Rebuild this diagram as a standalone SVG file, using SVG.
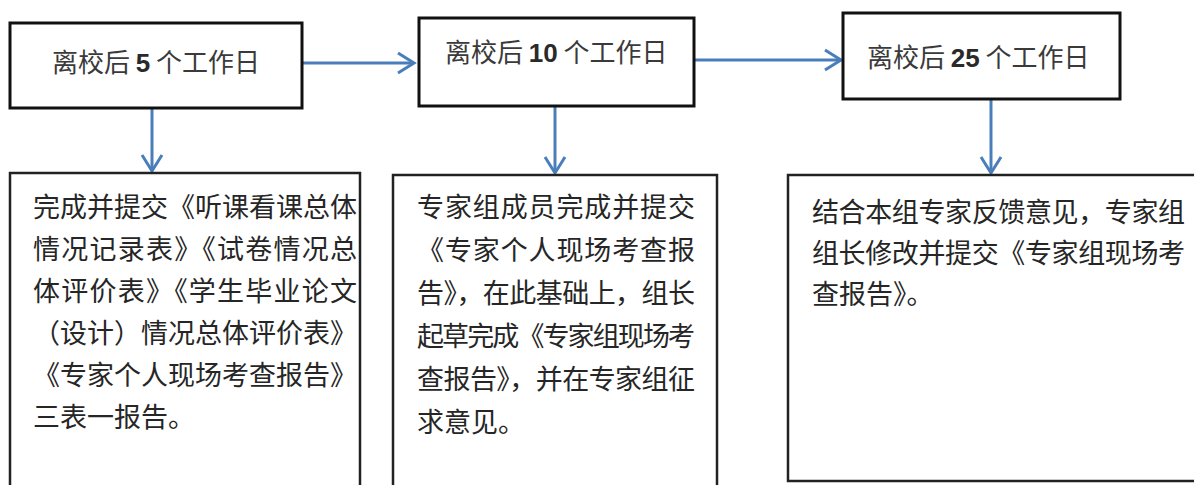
<svg xmlns="http://www.w3.org/2000/svg" width="1194" height="485" viewBox="0 0 1194 485">
<style>
.box{fill:#fff;stroke:#111;stroke-width:3}
.tbox{fill:#fff;stroke:#222;stroke-width:2.5}
.hd{font-family:"Noto Sans CJK SC","Noto Sans",sans-serif;font-size:26px;fill:#3a3a3a}
.num{font-family:"Liberation Sans","Noto Sans",sans-serif;font-weight:bold;fill:#2a2a2a}
.bd{font-family:"Noto Sans CJK SC",sans-serif;font-size:27px;fill:#262626}
.conn{stroke:#4a7ebb;stroke-width:3;fill:none}
</style>
<rect width="1194" height="485" fill="#fff"/>
<g id="connectors">
<line class="conn" x1="302" y1="63" x2="414" y2="63"/>
<polyline class="conn" points="398,53 414,63 398,73"/>
<line class="conn" x1="694" y1="60" x2="841" y2="60"/>
<polyline class="conn" points="825,50 841,60 825,70"/>
<line class="conn" x1="152" y1="108" x2="152" y2="171"/>
<polyline class="conn" points="142,155 152,171 162,155"/>
<line class="conn" x1="555" y1="106" x2="555" y2="173"/>
<polyline class="conn" points="545,157 555,173 565,157"/>
<line class="conn" x1="991" y1="99" x2="991" y2="173"/>
<polyline class="conn" points="981,157 991,173 1001,157"/>
</g>
<g id="n1">
<rect class="box" x="10" y="23" width="292" height="85"/>
<text class="hd" x="52" y="72">离校后 <tspan class="num">5</tspan> 个工作日</text>
</g>
<g id="n2">
<rect class="box" x="419" y="18" width="275" height="88"/>
<text class="hd" x="445" y="62">离校后 <tspan class="num">10</tspan> 个工作日</text>
</g>
<g id="n3">
<rect class="box" x="843" y="13" width="277" height="86"/>
<text class="hd" x="867" y="67">离校后 <tspan class="num">25</tspan> 个工作日</text>
</g>
<g id="n4">
<rect class="tbox" x="10" y="173" width="350" height="320"/>
<text class="bd" x="33" y="217" textLength="324" lengthAdjust="spacing">完成并提交《听课看课总体</text>
<text class="bd" x="33" y="259" textLength="324" lengthAdjust="spacing">情况记录表》《试卷情况总</text>
<text class="bd" x="33" y="301" textLength="324" lengthAdjust="spacing">体评价表》《学生毕业论文</text>
<text class="bd" x="33" y="343" textLength="324" lengthAdjust="spacing">（设计）情况总体评价表》</text>
<text class="bd" x="33" y="385" textLength="324" lengthAdjust="spacing">《专家个人现场考查报告》</text>
<text class="bd" x="33" y="427">三表一报告。</text>
</g>
<g id="n5">
<rect class="tbox" x="393" y="175" width="324" height="320"/>
<text class="bd" x="417" y="217" textLength="278" lengthAdjust="spacing">专家组成员完成并提交</text>
<text class="bd" x="417" y="260" textLength="278" lengthAdjust="spacing">《专家个人现场考查报</text>
<text class="bd" x="417" y="303" textLength="278" lengthAdjust="spacing">告》，在此基础上，组长</text>
<text class="bd" x="417" y="346" textLength="278" lengthAdjust="spacing">起草完成《专家组现场考</text>
<text class="bd" x="417" y="389" textLength="278" lengthAdjust="spacing">查报告》，并在专家组征</text>
<text class="bd" x="417" y="432">求意见。</text>
</g>
<g id="n6">
<rect class="tbox" x="788" y="175" width="420" height="306"/>
<text class="bd" x="812" y="222" textLength="373" lengthAdjust="spacing">结合本组专家反馈意见，专家组</text>
<text class="bd" x="812" y="263" textLength="373" lengthAdjust="spacing">组长修改并提交《专家组现场考</text>
<text class="bd" x="812" y="304">查报告》。</text>
</g>
</svg>
